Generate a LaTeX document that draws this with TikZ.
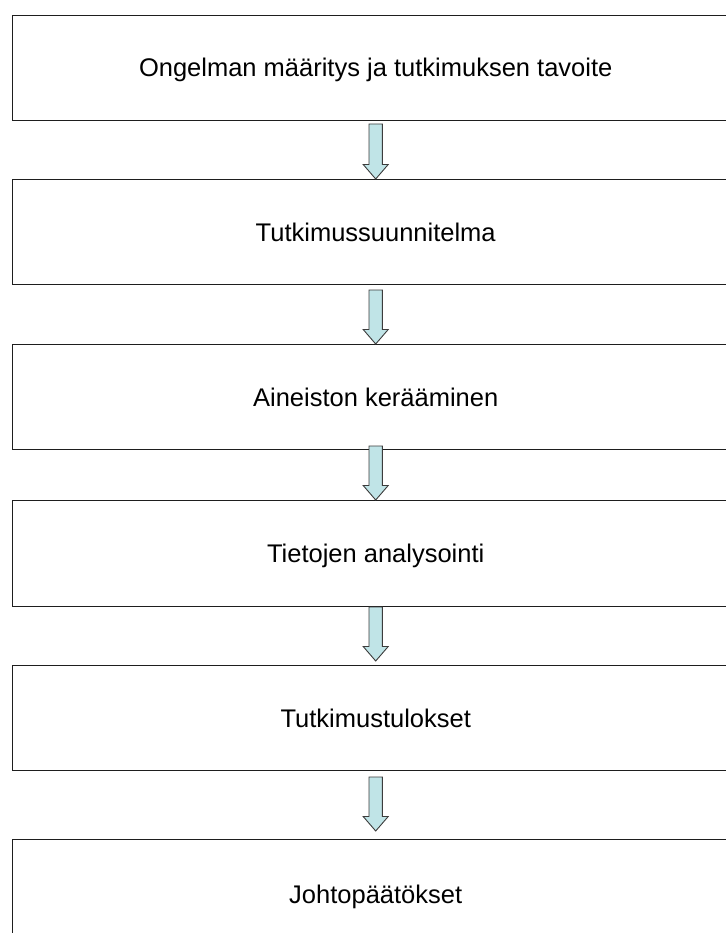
\documentclass[tikz,border=0pt]{standalone}
\usepackage{fontspec}
\setmainfont{Liberation Sans}
\usepackage{tikz}
\usetikzlibrary{positioning, calc}
\definecolor{boxline}{RGB}{30,30,30}
\definecolor{arrowfill}{RGB}{192,228,231}
\definecolor{arrowline}{RGB}{60,60,60}
\tikzset{
  stepbox/.style={rectangle,draw=boxline,line width=1pt,minimum width=727pt,minimum height=105pt,
    text height=18pt,text depth=0pt,font=\fontsize{25.5}{30}\selectfont},
  flowarr/.style={draw=arrowline,fill=arrowfill,line width=0.9pt,line join=miter}
}
% block arrow: from node, gap below it, to node, gap above it
\newcommand{\flowarrow}[4]{%
  \draw[flowarr] let \p1=($(#1.south)+(0,#2)$), \p2=($(#3.north)+(0,-#4)$) in
    (\x1-6.7pt,\y1) -- (\x1+6.7pt,\y1) -- (\x1+6.7pt,\y2+14.5pt) -- (\x1+12.5pt,\y2+14.5pt)
    -- (\x1,\y2) -- (\x1-12.5pt,\y2+14.5pt) -- (\x1-6.7pt,\y2+14.5pt) -- cycle;}
\begin{document}
\begin{tikzpicture}[x=1pt,y=-1pt]
  \useasboundingbox (0,0) rectangle (725,933);
  \node[stepbox,anchor=north west] (b1) at (11.7,15) {Ongelman määritys ja tutkimuksen tavoite};
  \node[stepbox,below=58pt of b1] (b2) {Tutkimussuunnitelma};
  \node[stepbox,below=59pt of b2] (b3) {Aineiston kerääminen};
  \node[stepbox,below=50pt of b3,minimum height=106pt] (b4) {Tietojen analysointi};
  \node[stepbox,below=58pt of b4] (b5) {Tutkimustulokset};
  \node[stepbox,below=68pt of b5,minimum height=110pt] (b6) {Johtopäätökset};

  \flowarrow{b1}{3}{b2}{0}
  \flowarrow{b2}{5}{b3}{0}
  \flowarrow{b3}{-4}{b4}{0}
  \flowarrow{b4}{0}{b5}{4}
  \flowarrow{b5}{6}{b6}{8}
\end{tikzpicture}
\end{document}
